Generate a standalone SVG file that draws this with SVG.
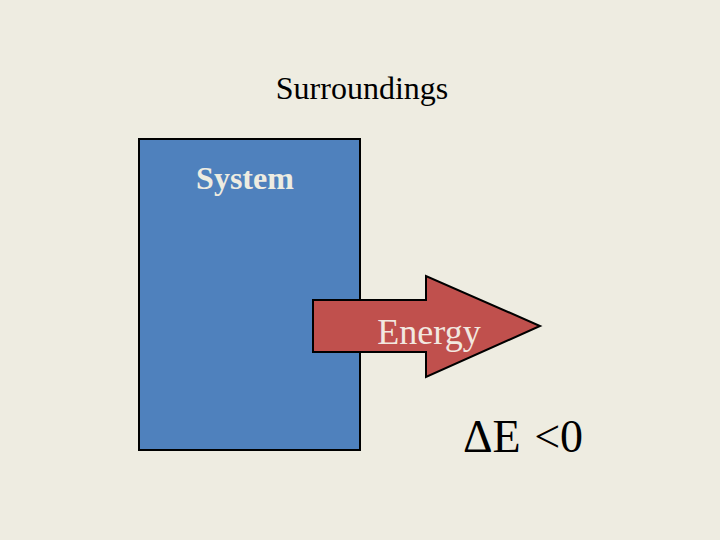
<svg xmlns="http://www.w3.org/2000/svg" width="720" height="540" viewBox="0 0 720 540">
<style>
text{font-family:"Liberation Serif","Times New Roman",serif;}
.lbl{fill:#000;}
.light{fill:#F2E8E0;}
</style>
<rect width="720" height="540" fill="#EEECE1"/>
<text class="lbl" x="362" y="99" font-size="32" text-anchor="middle">Surroundings</text>
<g id="system">
<rect x="139" y="139" width="221" height="311" fill="#4F81BD" stroke="#000" stroke-width="2"/>
<text x="245" y="189" font-size="32" font-weight="bold" fill="#EEECE1" text-anchor="middle">System</text>
</g>
<g id="connectors">
<g id="energy">
<polygon points="313,300 426,300 426,276 540,326 426,377 426,352 313,352" fill="#C0504D" stroke="#000" stroke-width="2" stroke-linejoin="miter"/>
<text class="light" x="429" y="344" font-size="36" text-anchor="middle">Energy</text>
</g>
</g>
<text class="lbl" x="463" y="452" font-size="46" word-spacing="2">ΔE &lt;0</text>
</svg>
